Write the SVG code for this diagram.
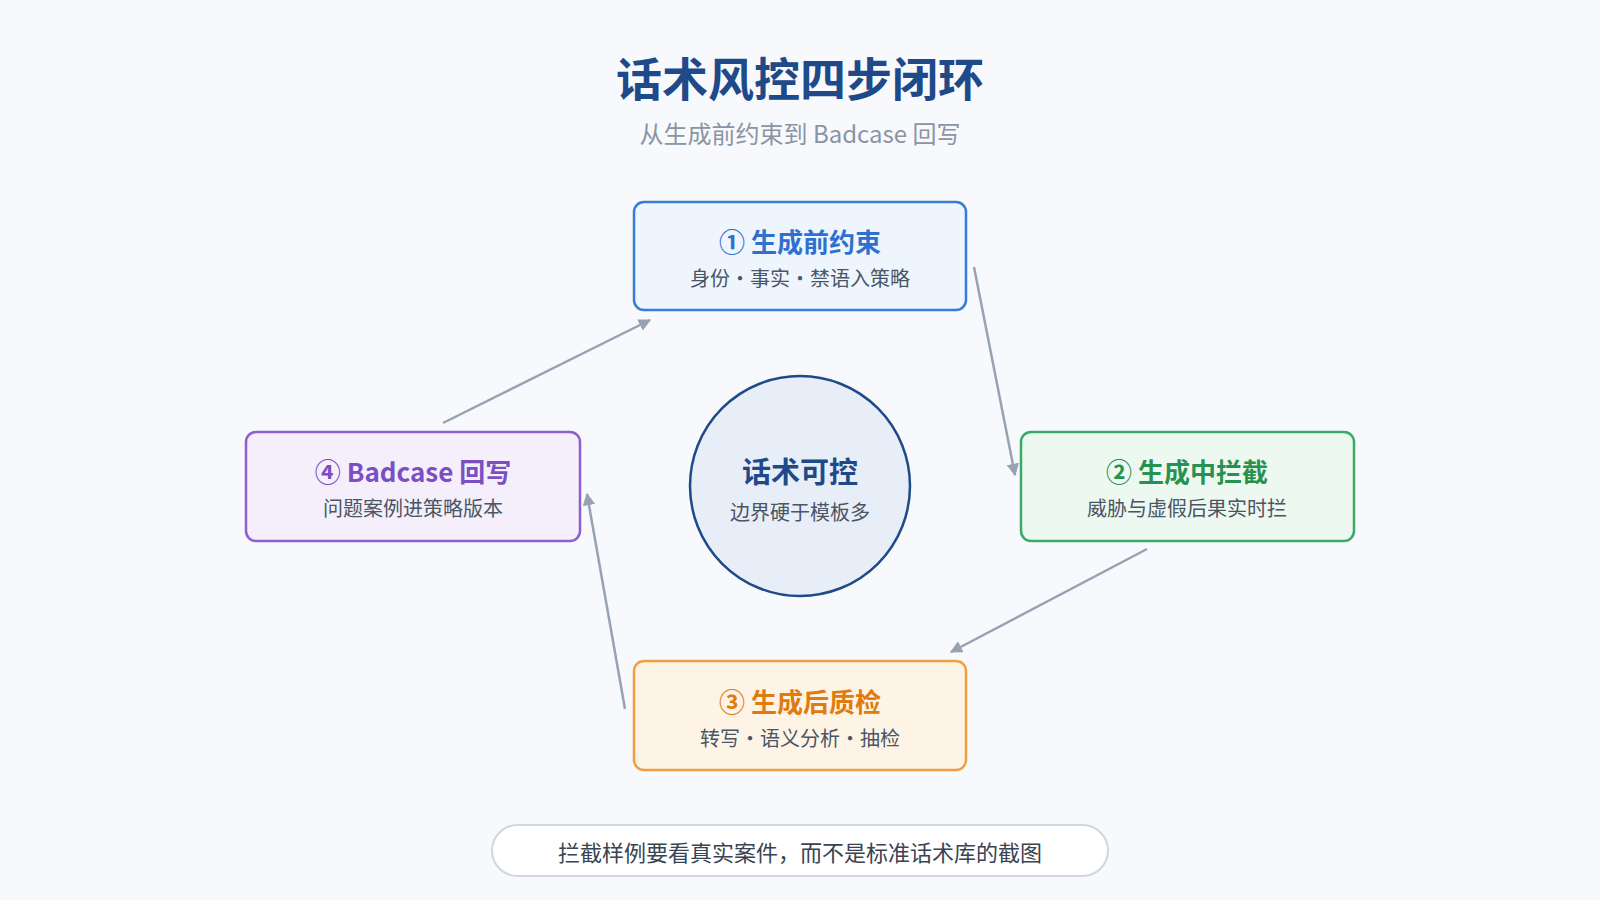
<svg xmlns="http://www.w3.org/2000/svg" width="1600" height="900" viewBox="0 0 1600 900">
<defs>
<marker id="ah" viewBox="0 0 10 10" refX="9" refY="5" markerWidth="5" markerHeight="5" orient="auto"><path d="M0,0L10,5L0,10z" fill="#98a2b3"/></marker>
<style>
text{font-family:"Noto Sans CJK SC","Noto Sans",sans-serif;text-anchor:middle;dominant-baseline:central}
.box{stroke-width:2.5}
.t{font-size:26px;font-weight:bold}
.s{font-size:20px;fill:#4a5565}
.c{stroke:#98a2b3;stroke-width:2.5;fill:none;marker-end:url(#ah)}
</style>
</defs>
<rect width="1600" height="900" fill="#f7f9fc"/>
<text x="800" y="76" font-size="46" font-weight="bold" fill="#1e4a8a">话术风控四步闭环</text>
<text x="800" y="132" font-size="24" fill="#8a94a3">从生成前约束到 Badcase 回写</text>
<g id="connectors">
<line class="c" x1="974" y1="267" x2="1015" y2="475"/>
<line class="c" x1="1147" y1="549" x2="951" y2="652"/>
<line class="c" x1="625" y1="709" x2="587" y2="494"/>
<line class="c" x1="443" y1="423" x2="650" y2="320"/>
</g>
<g id="center">
<circle cx="800" cy="486" r="110" fill="#e8eef8" stroke="#1e4a8a" stroke-width="2.5"/>
<text x="800" y="470" font-size="29" font-weight="bold" fill="#1e4a8a">话术可控</text>
<text x="800" y="511" class="s">边界硬于模板多</text>
</g>
<g id="step1">
<rect class="box" x="634" y="202" width="332" height="108" rx="10" fill="#eef5fd" stroke="#3a7bd5"/>
<text x="800" y="240" class="t" fill="#2f6fcf">① 生成前约束</text>
<text x="800" y="277" class="s">身份・事实・禁语入策略</text>
</g>
<g id="step2">
<rect class="box" x="1021" y="432" width="333" height="109" rx="10" fill="#edf8f1" stroke="#3aaa6a"/>
<text x="1187" y="470" class="t" fill="#27924f">② 生成中拦截</text>
<text x="1187" y="507" class="s">威胁与虚假后果实时拦</text>
</g>
<g id="step3">
<rect class="box" x="634" y="661" width="332" height="109" rx="10" fill="#fef4e6" stroke="#f0a040"/>
<text x="800" y="700" class="t" fill="#e07b10">③ 生成后质检</text>
<text x="800" y="737" class="s">转写・语义分析・抽检</text>
</g>
<g id="step4">
<rect class="box" x="246" y="432" width="334" height="109" rx="10" fill="#f4effb" stroke="#8e5fd0"/>
<text x="413" y="470" class="t" fill="#7b4fc4">④ Badcase 回写</text>
<text x="413" y="507" class="s">问题案例进策略版本</text>
</g>
<g id="note">
<rect x="492" y="825" width="616" height="51" rx="25.5" fill="#ffffff" stroke="#d0d6e0" stroke-width="2"/>
<text x="800" y="851" font-size="22" fill="#3a4352">拦截样例要看真实案件，而不是标准话术库的截图</text>
</g>
</svg>
